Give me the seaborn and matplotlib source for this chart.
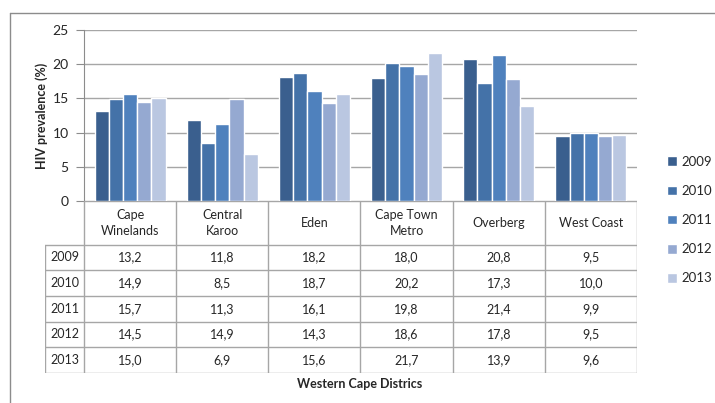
import matplotlib
matplotlib.use("Agg")
import matplotlib.pyplot as plt
import seaborn as sns
import pandas as pd
from matplotlib.lines import Line2D

districts = ["Cape\nWinelands", "Central\nKaroo", "Eden", "Cape Town\nMetro", "Overberg", "West Coast"]
years = ["2009", "2010", "2011", "2012", "2013"]
v2009 = [13.2, 11.8, 18.2, 18.0, 20.8, 9.5]
v2010 = [14.9, 8.5, 18.7, 20.2, 17.3, 10.0]
v2011 = [15.7, 11.3, 16.1, 19.8, 21.4, 9.9]
v2012 = [14.5, 14.9, 14.3, 18.6, 17.8, 9.5]
v2013 = [15.0, 6.9, 15.6, 21.7, 13.9, 9.6]
series = [v2009, v2010, v2011, v2012, v2013]
colors = ["#3A5F8E", "#4472A8", "#4F81BD", "#95A9D1", "#BAC7E1"]

rows = []
for yr, vals in zip(years, series):
    for d, v in zip(districts, vals):
        rows.append({"district": d, "year": yr, "value": v})
df = pd.DataFrame(rows)

sns.set_style("white")
plt.rcParams["font.family"] = ["Lato", "DejaVu Sans"]

W, H = 715, 403
fig = plt.figure(figsize=(W / 100, H / 100), dpi=100)

# outer frame (top and left edges only visible)
fig.lines.append(Line2D([10 / W, 1], [1 - 13 / H, 1 - 13 / H], transform=fig.transFigure, color="#8C8C8C", lw=1))
fig.lines.append(Line2D([10 / W, 10 / W], [0, 1 - 13 / H], transform=fig.transFigure, color="#8C8C8C", lw=1))

ax = fig.add_axes([84 / W, 1 - 201 / H, 553 / W, 171 / H])
sns.barplot(data=df, x="district", y="value", hue="year", palette=colors,
            width=0.77, gap=0, saturation=1, ax=ax, legend=True)
ax.set_ylim(0, 25)
ax.set_xlim(-0.5, 5.5)
ax.set_yticks([0, 5, 10, 15, 20, 25])
ax.yaxis.grid(True, color="#A6A6A6", lw=1)
ax.set_axisbelow(True)
for s in ["top", "right", "bottom"]:
    ax.spines[s].set_visible(False)
ax.spines["left"].set_color("#8C8C8C")
ax.tick_params(axis="y", length=6, color="#8C8C8C", labelsize=10, pad=5, left=True)
ax.set_xticks([])
ax.set_xlabel("")
ax.set_ylabel("HIV prevalence (%)", fontsize=9, fontweight="bold", labelpad=3)

handles, labels = ax.get_legend_handles_labels()
ax.get_legend().remove()
fig.legend(handles, labels, loc="upper left", bbox_to_anchor=(655 / W, 1 - 144 / H),
           frameon=False, fontsize=9.5, handlelength=0.75, handleheight=0.75,
           handletextpad=0.35, labelspacing=1.3)

# data table below the bars
tax = fig.add_axes([45 / W, 1 - 373 / H, 592 / W, 172 / H])
rl = 39 / 92.2  # row-label column width in category units
hdr = 1.7
tax.set_xlim(-rl - 0.5, 5.5)
tax.set_ylim(hdr + len(years), 0)
tax.axis("off")
lc = "#A6A6A6"
tax.plot([-0.5, 5.5], [0, 0], color=lc, lw=1)
for j in range(len(years) + 1):
    tax.plot([-rl - 0.5, 5.5], [hdr + j, hdr + j], color=lc, lw=1)
for i in range(len(districts) + 1):
    tax.plot([i - 0.5, i - 0.5], [0, hdr + len(years)], color=lc, lw=1)
tax.plot([-rl - 0.5, -rl - 0.5], [hdr, hdr + len(years)], color=lc, lw=1)

for i, d in enumerate(districts):
    tax.text(i, hdr / 2, d, ha="center", va="center", fontsize=9, linespacing=1.45)
for j, (yr, vals) in enumerate(zip(years, series)):
    tax.text(-0.5 - rl / 2, hdr + j + 0.5, yr, ha="center", va="center", fontsize=9)
    for i, v in enumerate(vals):
        tax.text(i, hdr + j + 0.5, f"{v:.1f}".replace(".", ","), ha="center", va="center", fontsize=9)

fig.text(360 / W, 1 - 384 / H, "Western Cape Districs", ha="center", va="center",
         fontsize=9, fontweight="bold")

fig.savefig("out.png", dpi=100)
